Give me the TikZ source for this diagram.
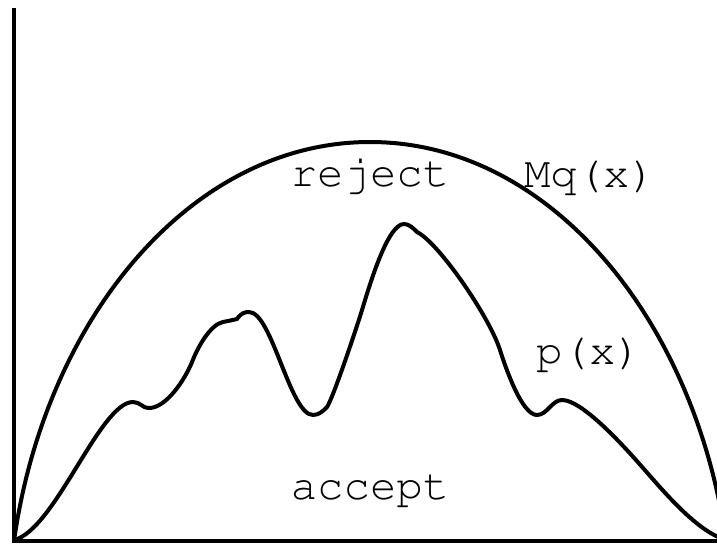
\documentclass[tikz,border=0pt]{standalone}
\usepackage[T1]{fontenc}
\usepackage{courier}
\usepackage{tikz}

\begin{document}
\begin{tikzpicture}[
        x=1pt, y=-1pt,
        axis/.style={line width=4.5pt},
        curve/.style={line width=4pt, line join=round, line cap=round},
        lbl/.style={font=\fontsize{44}{44}\selectfont\ttfamily, anchor=base, inner sep=0pt}
    ]
        \useasboundingbox (0,0) rectangle (717,544);
        \clip (0,0) rectangle (717,544);

        % Axes
        \coordinate (top) at (14,8);
        \coordinate (origin) at (14,541);
        \coordinate (right) at (730,541);
        \draw[axis] (top) -- (origin) -- (right);

        % Envelope Mq(x)
        \coordinate (peak) at (370,142);
        \coordinate (far) at (726,541);
        \draw[curve] (origin) .. controls (45,320) and (190,142) .. (peak)
                              .. controls (550,142) and (695,320) .. (far);

        % Target p(x)
        \draw[curve] (14,540) .. controls (55,530) and (100,402) .. (133,402)
            .. controls (140,402) and (143,408) .. (148,408)
            .. controls (166,409) and (185.4,378.7) .. (192,362)
            .. controls (198.6,345) and (211,324.4) .. (223,322)
            .. controls (228,321) and (233,320) .. (237,319)
            .. controls (241,313) and (245,312) .. (249,312)
            .. controls (272,312) and (290,415) .. (313,415)
            .. controls (319,415) and (323,411) .. (327,407)
            .. controls (333,398) and (355.6,331) .. (362,310)
            .. controls (370.7,281.3) and (388,224) .. (404,224)
            .. controls (409,224) and (413,228) .. (417,232)
            .. controls (439,243) and (489.5,317) .. (500,350)
            .. controls (506,369) and (522,415) .. (537,415)
            .. controls (547,415) and (552,400) .. (562,400)
            .. controls (582,400) and (623,445) .. (643,468)
            .. controls (666,494) and (700,535) .. (730,541);

        % Labels
        \node[lbl] (reject) at (370,186) {reject};
        \node[lbl] (mq) at (590,187) {Mq(x)};
        \node[lbl] (px) at (589,364) {p(x)};
        \node[lbl] (accept) at (370,499) {accept};

    \end{tikzpicture}
\end{document}
